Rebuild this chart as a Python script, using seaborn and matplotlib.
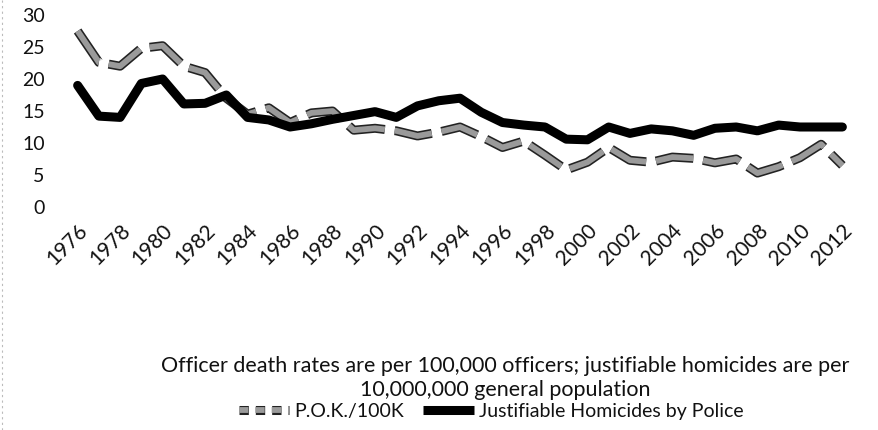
import numpy as np
import pandas as pd
import matplotlib
matplotlib.use("Agg")
import matplotlib.pyplot as plt
import matplotlib.patheffects as pe
from matplotlib.lines import Line2D
import seaborn as sns

years = list(range(1976, 2013))
pok_per_100k = [27.5, 22.6, 22.0, 24.8, 25.2, 22.0, 21.0, 17.0, 14.5, 15.5,
                13.2, 14.7, 15.0, 12.0, 12.3, 11.9, 11.1, 11.7, 12.5, 11.0,
                9.3, 10.3, 8.1, 5.8, 7.0, 9.3, 7.3, 7.0, 7.8, 7.6,
                6.9, 7.5, 5.3, 6.3, 7.7, 9.8, 6.5]
justifiable_homicides = [19.0, 14.2, 14.0, 19.3, 20.0, 16.1, 16.2, 17.5, 14.0, 13.6,
                         12.5, 13.0, 13.7, 14.3, 14.9, 14.0, 15.8, 16.6, 17.0, 14.8,
                         13.2, 12.8, 12.5, 10.6, 10.5, 12.5, 11.5, 12.2, 11.9, 11.2,
                         12.3, 12.5, 11.9, 12.8, 12.5, 12.5, 12.5]
yticks = [0, 5, 10, 15, 20, 25, 30]
xtick_years = list(range(1976, 2013, 2))
label_pok = "P.O.K./100K"
label_jh = "Justifiable Homicides by Police"
caption = ("Officer death rates are per 100,000 officers; justifiable homicides are per\n"
           "10,000,000 general population")

df = pd.DataFrame({"year": years, "pok": pok_per_100k, "jh": justifiable_homicides})

sns.set_theme(style="white")
plt.rcParams["font.family"] = ["Lato", "DejaVu Sans"]

W, H = 879, 430
fig = plt.figure(figsize=(W / 100, H / 100), dpi=100)
ax = fig.add_axes([67 / W, (H - 207) / H, 786 / W, 192 / H])

sns.lineplot(data=df, x="year", y="pok", ax=ax, color="#9a9a9a", linewidth=4.2,
             linestyle=(0, (6.5, 1.7)), legend=False)
sns.lineplot(data=df, x="year", y="jh", ax=ax, color="black", linewidth=6.5,
             legend=False)
lines = ax.get_lines()
lines[0].set_path_effects([pe.Stroke(linewidth=6.5, foreground="#222222"), pe.Normal()])
lines[0].set_dash_capstyle("butt")
lines[1].set_solid_joinstyle("round")

ax.set_xlim(1975.5, 2012.5)
ax.set_ylim(0, 30)
ax.set_yticks(yticks)
ax.set_yticklabels([str(v) for v in yticks], fontsize=14, color="#111111")
ax.set_xticks(xtick_years)
ax.set_xticklabels([str(y) for y in xtick_years], fontsize=15, color="#111111",
                   rotation=45, ha="right", rotation_mode="anchor")
ax.tick_params(axis="x", pad=10, length=0)
ax.tick_params(axis="y", pad=16, length=0)
ax.set_xlabel("")
ax.set_ylabel("")
for s in ax.spines.values():
    s.set_visible(False)
ax.grid(False)

fig.text(505 / W, 1 - 378 / H, caption, ha="center", va="center", fontsize=15.5,
         color="#111111", linespacing=1.2)

h1 = Line2D([], [], color="#9a9a9a", linewidth=4.2, linestyle=(0, (1.6, 1.2)),
            path_effects=[pe.Stroke(linewidth=6.5, foreground="#222222"), pe.Normal()])
h2 = Line2D([], [], color="black", linewidth=6.5, solid_capstyle="butt")
fig.legend([h1, h2], [label_pok, label_jh], loc="center", ncol=2,
           bbox_to_anchor=(491 / W, 1 - 411 / H), frameon=False, fontsize=14,
           handlelength=2.6, handletextpad=0.25, columnspacing=1.0,
           labelcolor="#111111")

fig.add_artist(Line2D([2 / W, 2 / W], [0, 1], color="#bbbbbb", linewidth=0.8,
                      linestyle=(0, (2, 3)), transform=fig.transFigure))

fig.savefig("out.png", dpi=100)
